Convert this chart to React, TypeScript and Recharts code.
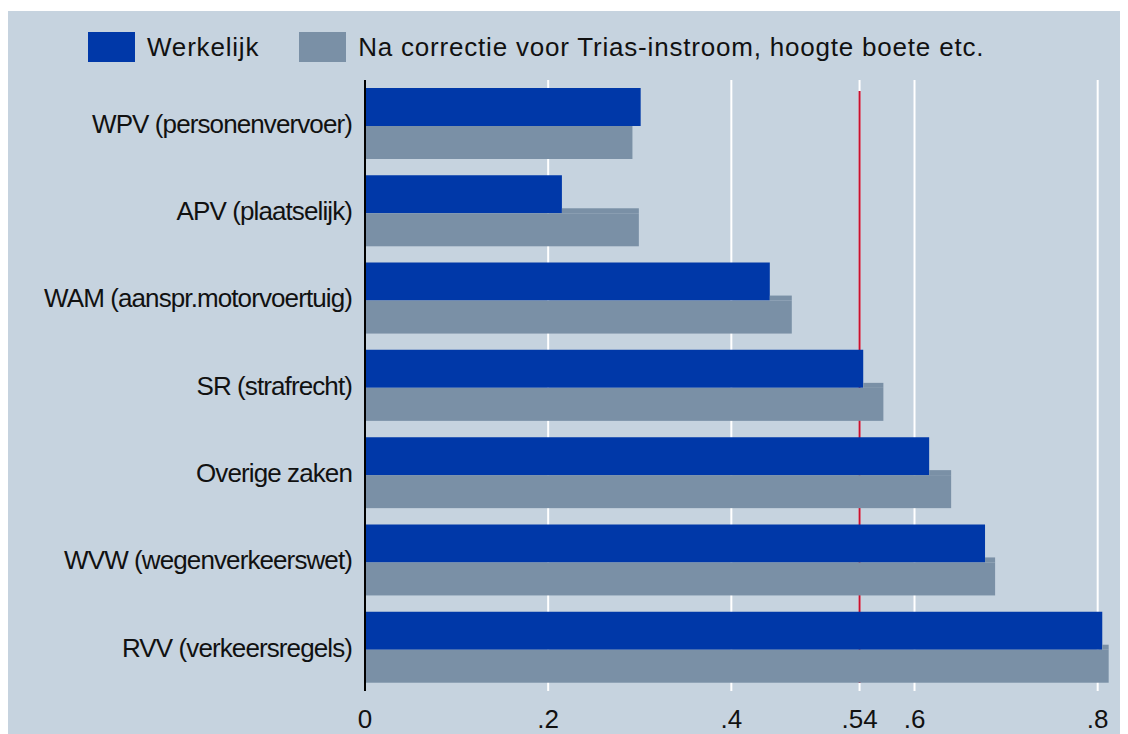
import React from "react";
import {
  Bar,
  BarChart,
  CartesianGrid,
  Legend,
  XAxis,
  YAxis,
} from "recharts";

const categories = [
  "WPV (personenvervoer)",
  "APV (plaatselijk)",
  "WAM (aanspr.motorvoertuig)",
  "SR (strafrecht)",
  "Overige zaken",
  "WVW (wegenverkeerswet)",
  "RVV (verkeersregels)",
];
const werkelijk = [0.301, 0.215, 0.442, 0.544, 0.616, 0.677, 0.805];
const gecorrigeerd = [0.292, 0.299, 0.466, 0.566, 0.64, 0.688, 0.812];
const xTicks = [0, 0.2, 0.4, 0.54, 0.6, 0.8];
const xTickLabels = ["0", ".2", ".4", ".54", ".6", ".8"];
const referenceValue = 0.54;

const BLUE = "#0038a8";
const GRAY = "#7a90a6";
const BG = "#c6d3df";
const RED = "#c8102e";
const FONT = "'Liberation Sans', Arial, sans-serif";
const OVERLAP = 5;

const data = categories.map((name, i) => ({
  name,
  werkelijk: werkelijk[i],
  gecorrigeerd: gecorrigeerd[i],
}));

// gray bar sits partly under the blue one; leave the blue part uncovered
const GrayShape = (props: any) => {
  const { x, y, width, height, payload } = props;
  const blueW = (payload.werkelijk / payload.gecorrigeerd) * width;
  return (
    <g>
      <rect x={x} y={y + OVERLAP} width={width} height={height - OVERLAP} fill={GRAY} />
      {width > blueW && (
        <rect x={x + blueW} y={y} width={width - blueW} height={OVERLAP} fill={GRAY} />
      )}
    </g>
  );
};

// white grid lines; the .54 one gets the red reference line on top (still behind the bars)
const GridLine = (p: any) => {
  const top = Math.min(p.y1, p.y2);
  const bottom = Math.max(p.y1, p.y2);
  const isRef = xTicks[p.index] === referenceValue;
  return (
    <g key={p.key}>
      <line x1={p.x1} x2={p.x2} y1={top} y2={bottom} stroke="#ffffff" strokeWidth={2} />
      {isRef && (
        <line x1={p.x1} x2={p.x2} y1={top + 11} y2={bottom - 8} stroke={RED} strokeWidth={2} />
      )}
    </g>
  );
};

const XTick = (props: any) => {
  const { x, y, index } = props;
  return (
    <text x={x} y={y + 37} textAnchor="middle" fontSize={26} fontFamily={FONT} fill="#111">
      {xTickLabels[index]}
    </text>
  );
};

const LegendBox = () => (
  <div
    style={{
      height: 69,
      boxSizing: "border-box",
      paddingTop: 21,
      paddingLeft: 80,
      display: "flex",
      alignItems: "flex-start",
      fontFamily: FONT,
      fontSize: 26,
      letterSpacing: 0.8,
      color: "#111",
    }}
  >
    <div style={{ display: "flex", alignItems: "center", height: 30 }}>
      <span style={{ width: 47, height: 30, background: BLUE, marginRight: 12 }} />
      <span style={{ marginRight: 40 }}>Werkelijk</span>
      <span style={{ width: 47, height: 30, background: GRAY, marginRight: 12 }} />
      <span>Na correctie voor Trias-instroom, hoogte boete etc.</span>
    </div>
  </div>
);

export default function App() {
  return (
    <div style={{ marginTop: 3, width: 1120, height: 723, background: BG }}>
      <BarChart
        width={1120}
        height={723}
        data={data}
        layout="vertical"
        margin={{ top: 0, right: 12, bottom: 0, left: 0 }}
        barSize={38}
        barGap={-OVERLAP}
      >
        <CartesianGrid
          horizontal={false}
          vertical={GridLine}
          verticalValues={xTicks}
          stroke="#ffffff"
          strokeWidth={2}
        />
        <XAxis
          type="number"
          domain={[0, 0.82]}
          ticks={xTicks}
          axisLine={false}
          tickLine={false}
          tickSize={0}
          tickMargin={0}
          height={43}
          tick={<XTick />}
        />
        <YAxis
          type="category"
          dataKey="name"
          width={357}
          axisLine={{ stroke: "#000", strokeWidth: 2 }}
          tickLine={false}
          tickSize={0}
          tickMargin={13}
          tick={{ fill: "#111", fontSize: 26, fontFamily: FONT, letterSpacing: -0.9 }}
          interval={0}
        />
        <Legend verticalAlign="top" content={<LegendBox />} />
        <Bar dataKey="werkelijk" fill={BLUE} isAnimationActive={false} />
        <Bar dataKey="gecorrigeerd" fill={GRAY} shape={<GrayShape />} isAnimationActive={false} />
      </BarChart>
    </div>
  );
}
